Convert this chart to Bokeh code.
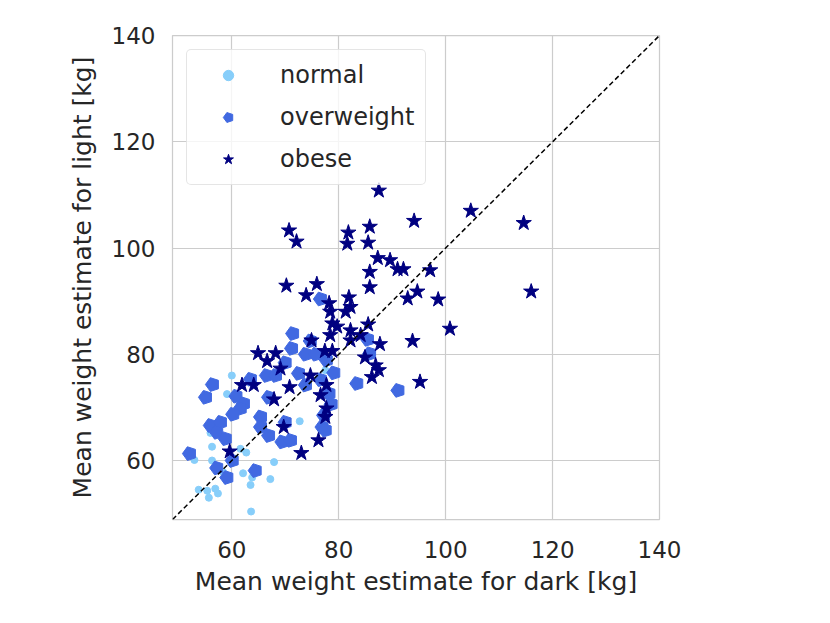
from bokeh.plotting import figure
from bokeh.models import Range1d, FixedTicker, Legend, LegendItem, Slope
from bokeh.embed import file_html
from bokeh.resources import INLINE

# ---- data ----
normal_x = [60.0, 59.1, 56.0, 56.3, 53.0, 56.3, 61.6, 62.7, 62.1, 63.8, 63.5, 67.2,
            67.9, 53.8, 55.4, 56.9, 57.4, 55.7, 63.6, 58.4, 65.2, 72.7, 77.5]
normal_y = [76.0, 72.5, 65.2, 62.6, 60.1, 60.0, 62.2, 61.5, 57.6, 56.8, 55.4, 56.5,
            59.7, 54.5, 54.3, 54.7, 53.8, 53.0, 50.4, 57.8, 66.0, 67.4, 77.0]

over_x = [56.4, 55.1, 63.5, 60.8, 62.2, 61.6, 60.2, 66.9, 65.4, 56.0, 57.9, 57.2,
          58.8, 65.4, 66.9, 52.1, 60.1, 57.2, 59.1, 64.4, 66.5, 68.2,
          76.6, 71.4, 74.7, 71.2, 73.8, 75.7, 77.7, 70.0, 79.1, 72.5, 76.6, 73.8,
          78.2, 78.6, 83.4, 77.2, 70.0, 76.9, 77.5, 69.4, 71.0,
          85.4, 85.8, 91.1]
over_y = [74.3, 71.9, 75.3, 72.1, 70.7, 69.8, 68.7, 71.9, 68.2, 66.6, 67.2, 65.3,
          64.1, 66.3, 64.7, 61.3, 60.0, 58.6, 56.8, 58.1, 76.0, 76.0,
          90.4, 83.9, 82.5, 81.1, 80.0, 80.0, 78.9, 78.4, 76.5, 76.4, 75.2, 74.2,
          72.6, 70.6, 74.5, 68.5, 67.2, 66.3, 65.7, 63.5, 63.8,
          82.8, 80.1, 73.2]

obese_x = [61.9, 64.1, 66.6, 59.6, 67.9,
           70.2, 75.9, 73.9, 81.9, 78.2, 82.2, 81.3, 78.4, 78.8, 79.7, 82.2, 78.4,
           82.2, 74.9, 64.9, 68.2, 69.1, 77.4, 78.8, 74.7, 70.8, 77.7, 76.6, 77.7,
           77.5, 69.7, 76.2, 73.0, 84.1,
           87.5, 94.1, 70.7, 72.1, 81.8, 85.8, 81.6, 85.5, 87.3, 89.6, 91.0, 92.1,
           85.8, 85.8, 92.9, 94.7,
           104.7, 114.6, 97.1, 98.6, 116.0, 100.8, 85.5, 87.7, 93.8, 84.9, 86.9,
           87.5, 86.2, 95.2]
obese_y = [74.2, 74.2, 78.7, 61.7, 71.5,
           92.9, 93.2, 91.1, 90.7, 89.6, 88.9, 88.0, 88.0, 85.8, 85.2, 84.5, 83.6,
           82.6, 82.6, 80.2, 80.2, 77.3, 80.6, 80.6, 76.0, 73.8, 74.2, 72.3, 69.8,
           68.2, 66.3, 63.8, 61.4, 83.6,
           110.8, 105.1, 103.3, 101.2, 102.9, 104.0, 100.8, 101.0, 98.1, 97.7, 96.0, 96.0,
           95.5, 92.6, 90.5, 91.8,
           107.0, 104.7, 95.8, 90.3, 91.8, 84.8, 85.6, 81.9, 82.5, 79.4, 77.9,
           77.0, 75.7, 74.8]

series_labels = ["normal", "overweight", "obese"]
axis_ticks = [60, 80, 100, 120, 140]
axis_lo, axis_hi = 48.9, 140.0

FONT = "DejaVu Sans"
TXT = "#262626"
GRID = "#cccccc"

p = figure(width=814, height=607, output_backend="svg", toolbar_location=None,
           x_range=Range1d(axis_lo, axis_hi), y_range=Range1d(axis_lo, axis_hi),
           min_border_left=172, min_border_right=155, min_border_top=35,
           min_border_bottom=88)
p.background_fill_color = "white"
p.border_fill_color = "white"
p.outline_line_color = GRID
p.outline_line_width = 1.25

for ax in (p.xaxis[0], p.yaxis[0]):
    ax.ticker = FixedTicker(ticks=axis_ticks)
    ax.axis_line_color = None
    ax.major_tick_line_color = None
    ax.minor_tick_line_color = None
    ax.major_tick_out = 0
    ax.major_tick_in = 0
    ax.major_label_text_font = FONT
    ax.major_label_text_font_size = "23px"
    ax.major_label_text_color = TXT
    ax.axis_label_text_font = FONT
    ax.axis_label_text_font_size = "25px"
    ax.axis_label_text_font_style = "normal"
    ax.axis_label_text_color = TXT

p.xaxis.axis_label = "Mean weight estimate for dark [kg]"
p.yaxis.axis_label = "Mean weight estimate for light [kg]"
p.xaxis.major_label_standoff = 21
p.xaxis.axis_label_standoff = 6
p.yaxis.major_label_standoff = 17
p.yaxis.axis_label_standoff = 12

p.xgrid.ticker = FixedTicker(ticks=axis_ticks)
p.ygrid.ticker = FixedTicker(ticks=axis_ticks)
p.grid.grid_line_color = GRID
p.grid.grid_line_width = 1.2

r_norm = p.scatter(normal_x, normal_y, marker="circle", size=7,
                   fill_color="#87CEFA", line_color="#87CEFA")
if hasattr(p, "ngon"):
    r_over = p.ngon(x=over_x, y=over_y, radius=7.2, radius_units="screen", n=5,
                    angle=1.5707963, fill_color="#4169E1", line_color="#4169E1")
else:
    r_over = p.scatter(over_x, over_y, marker="hex", size=14,
                       fill_color="#4169E1", line_color="#4169E1")
r_obese = p.scatter(obese_x, obese_y, marker="star", size=16,
                    fill_color="#000080", line_color="#000080")

p.add_layout(Slope(gradient=1, y_intercept=0, line_color="black",
                   line_dash="5 3", line_width=1.5))

legend = Legend(items=[LegendItem(label=series_labels[0], renderers=[r_norm]),
                       LegendItem(label=series_labels[1], renderers=[r_over]),
                       LegendItem(label=series_labels[2], renderers=[r_obese])],
                location="top_left", margin=14, padding=11, spacing=14,
                glyph_width=60, glyph_height=26, label_height=28,
                label_standoff=22, label_text_font=FONT,
                label_text_font_size="24px", label_text_color=TXT,
                border_line_color=GRID, border_line_width=1.2,
                background_fill_color="white", background_fill_alpha=0.8)
if "border_radius" in Legend.properties():
    legend.border_radius = 5
p.add_layout(legend, "center")

open("out.html", "w").write(file_html(p, INLINE))
